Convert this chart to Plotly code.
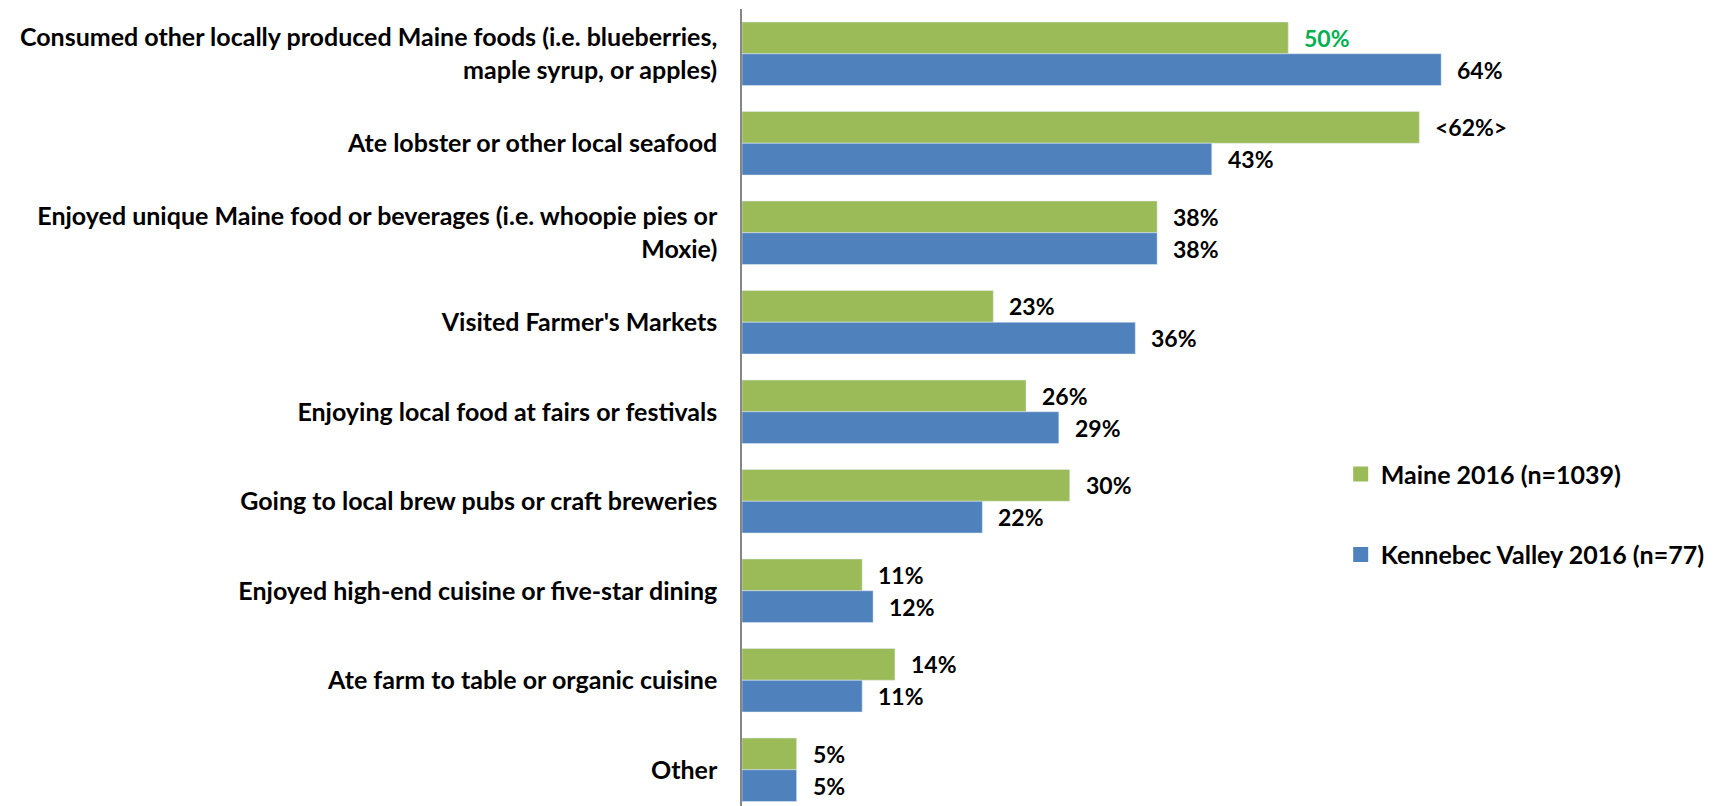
import plotly.graph_objects as go

# Food and beverage experiences, share of visitors
categories = [
    "Consumed other locally produced Maine foods (i.e. blueberries,<br>maple syrup, or apples)",
    "Ate lobster or other local seafood",
    "Enjoyed unique Maine food or beverages (i.e. whoopie pies or<br>Moxie)",
    "Visited Farmer's Markets",
    "Enjoying local food at fairs or festivals",
    "Going to local brew pubs or craft breweries",
    "Enjoyed high-end cuisine or five-star dining",
    "Ate farm to table or organic cuisine",
    "Other",
]
maine_2016 = [50, 62, 38, 23, 26, 30, 11, 14, 5]
kennebec_2016 = [64, 43, 38, 36, 29, 22, 12, 11, 5]
maine_labels = ["50%", "<62%>", "38%", "23%", "26%", "30%", "11%", "14%", "5%"]
kennebec_labels = ["64%", "43%", "38%", "36%", "29%", "22%", "12%", "11%", "5%"]
maine_label_colors = ["#00B050"] + ["#000000"] * 8
series_names = ["Maine 2016 (n=1039)", "Kennebec Valley 2016 (n=77)"]

FONT = "Lato"
GREEN = "#9BBB59"
BLUE = "#4F81BD"
colors = [GREEN, BLUE]

fig = go.Figure()
fig.add_trace(go.Bar(
    y=categories, x=maine_2016, orientation="h", name=series_names[0],
    marker=dict(color=GREEN), showlegend=False,
))
fig.add_trace(go.Bar(
    y=categories, x=kennebec_2016, orientation="h", name=series_names[1],
    marker=dict(color=BLUE), showlegend=False,
))

# legend entries with larger square swatches
for name, col, grp in zip(series_names, colors, ["a", "b"]):
    fig.add_trace(go.Scatter(
        x=[None], y=[None], mode="markers", name=name, legendgroup=grp,
        marker=dict(symbol="square", size=15, color=col), showlegend=True,
    ))

# value labels beside each bar end
bar_offset = 0.18
label_font = dict(family=FONT, size=23, weight="bold")
for i, (v, t, c) in enumerate(zip(maine_2016, maine_labels, maine_label_colors)):
    fig.add_annotation(x=v, y=i - bar_offset, text=t, showarrow=False, xanchor="left",
                       xshift=14, font=dict(color=c, **label_font))
for i, (v, t) in enumerate(zip(kennebec_2016, kennebec_labels)):
    fig.add_annotation(x=v, y=i + bar_offset, text=t, showarrow=False, xanchor="left",
                       xshift=14, font=dict(color="#000000", **label_font))

fig.update_layout(
    width=1713, height=806,
    margin=dict(l=742, r=97, t=9, b=0),
    paper_bgcolor="white", plot_bgcolor="white",
    barmode="group", bargap=0.29, bargroupgap=0,
    font=dict(family=FONT, size=22, color="#000000", weight="bold"),
    showlegend=True,
    legend=dict(x=0.685, y=0.445, xanchor="left", yanchor="top",
                font=dict(family=FONT, size=25, color="#000000", weight="bold"),
                tracegroupgap=45, itemwidth=30, bgcolor="rgba(0,0,0,0)"),
    xaxis=dict(range=[0, 80], visible=False, showgrid=False, zeroline=False),
    yaxis=dict(
        type="category", categoryorder="array", categoryarray=categories,
        range=[8.405, -0.5], showgrid=False, zeroline=False,
        showline=True, linecolor="#868686", linewidth=1.5,
        ticks="", ticklabelstandoff=18,
        tickfont=dict(family=FONT, size=25, color="#000000", weight="bold"),
    ),
)

fig.write_html("out.html")
